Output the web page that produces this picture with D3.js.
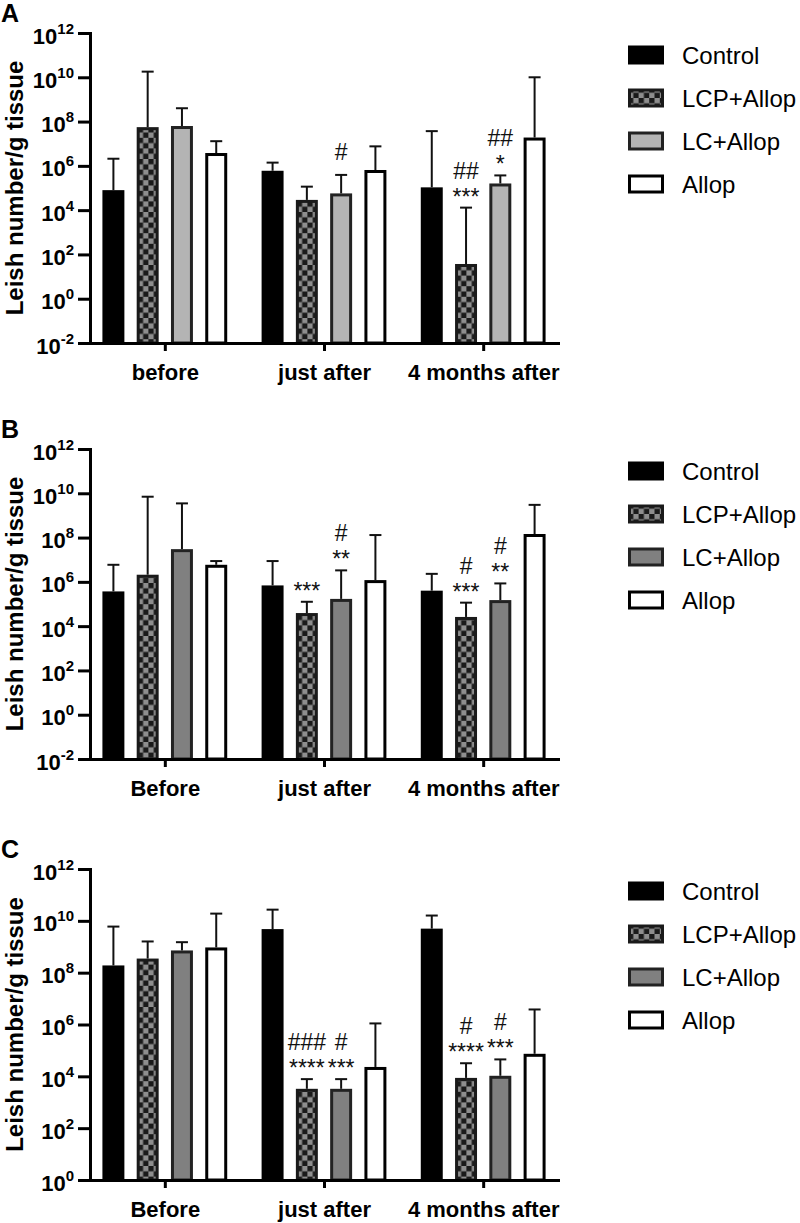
<!DOCTYPE html>
<html><head><meta charset="utf-8">
<script src="https://cdn.jsdelivr.net/npm/d3@7"></script>
<style>body{margin:0;background:#fff} svg{display:block}</style>
</head><body>
<svg id="chart" width="800" height="1223"></svg>
<script>
// ---------- DATA ----------
const categoriesA = ["before", "just after", "4 months after"];
const categoriesBC = ["Before", "just after", "4 months after"];
const series = ["Control", "LCP+Allop", "LC+Allop", "Allop"];
const panelLetters = ["A", "B", "C"];
const yLabel = "Leish number/g tissue";
const yExpAB = [-2, 0, 2, 4, 6, 8, 10, 12];
const yExpC = [0, 2, 4, 6, 8, 10, 12];

// rows: series (Control, LCP+Allop, LC+Allop, Allop); columns: categories
const meanA = [
  [8e4, 6e5, 1.07e5],
  [5.6e7, 2.9e4, 37],
  [6.3e7, 5.7e4, 1.6e5],
  [3.8e6, 6.5e5, 1.9e7]
];
const errA = [
  [2.1e6, 1.4e6, 3.7e7],
  [1.8e10, 1.15e5, 1.3e4],
  [4e8, 3.9e5, 3.7e5],
  [1.3e7, 7.6e6, 1e10]
];
const meanB = [
  [3.7e5, 6.9e5, 4e5],
  [2.1e6, 3.9e4, 2.6e4],
  [3e7, 1.7e5, 1.5e5],
  [5.9e6, 1.2e6, 1.45e8]
];
const errB = [
  [5.9e6, 8.7e6, 2.3e6],
  [7e9, 1.26e5, 1.15e5],
  [3.5e9, 3.3e6, 8.5e5],
  [8.7e6, 1.3e8, 3e9]
];
const meanC = [
  [1.9e8, 4.8e9, 5e9],
  [3.5e8, 3.3e3, 8.7e3],
  [7.2e8, 3.3e3, 1.05e4],
  [9.4e8, 2.3e4, 7.4e4]
];
const errC = [
  [6e9, 2.7e10, 1.6e10],
  [1.6e9, 7.8e3, 3.2e4],
  [1.5e9, 7.8e3, 4.5e4],
  [1.9e10, 1.1e6, 3.8e6]
];
// significance marks: [category index, series index, stars, hashes]
const annA = [[1, 2, "", "#"], [2, 1, "***", "##"], [2, 2, "*", "##"]];
const annB = [[1, 1, "***", ""], [1, 2, "**", "#"], [2, 1, "***", "#"], [2, 2, "**", "#"]];
const annC = [[1, 1, "****", "###"], [1, 2, "***", "#"], [2, 1, "****", "#"], [2, 2, "***", "#"]];

// ---------- STYLE / LAYOUT ----------
const FONT = "'Liberation Sans', Arial, Helvetica, sans-serif";
const svg = d3.select("#chart");
const defs = svg.append("defs");
const pat = defs.append("pattern").attr("id", "chk")
  .attr("patternUnits", "userSpaceOnUse").attr("width", 10.6).attr("height", 10.6);
pat.append("rect").attr("width", 10.6).attr("height", 10.6).attr("fill", "#8e8e8e");
pat.append("rect").attr("width", 5.3).attr("height", 5.3).attr("fill", "#1a1a1a");
pat.append("rect").attr("x", 5.3).attr("y", 5.3).attr("width", 5.3).attr("height", 5.3).attr("fill", "#1a1a1a");

const panels = [
  {letter: panelLetters[0], cats: categoriesA, mean: meanA, err: errA, ann: annA, exps: yExpAB, top: 33, bottom: 343, lcFill: "#b4b4b4"},
  {letter: panelLetters[1], cats: categoriesBC, mean: meanB, err: errB, ann: annB, exps: yExpAB, top: 449, bottom: 759, lcFill: "#808080"},
  {letter: panelLetters[2], cats: categoriesBC, mean: meanC, err: errC, ann: annC, exps: yExpC, top: 869, bottom: 1180, lcFill: "#808080"}
];

const left = 90, right = 558;

panels.forEach(p => {
  const fills = ["#000000", "url(#chk)", p.lcFill, "#ffffff"];
  const strokes = ["#000000", "#1a1a1a", "#222222", "#000000"];
  const g = svg.append("g");
  const y = d3.scaleLog()
    .domain([Math.pow(10, p.exps[0]), Math.pow(10, p.exps[p.exps.length - 1])])
    .range([p.bottom, p.top]);
  const x0 = d3.scalePoint().domain(p.cats).range([left, right]).padding(0.47);
  const x1 = d3.scaleBand().domain(series).range([-62.4, 62.4]).paddingInner(0.359);
  const bw = x1.bandwidth();

  // bars
  const rows = [];
  series.forEach((s, si) => p.cats.forEach((c, ci) => rows.push({s, si, c, ci, v: p.mean[si][ci], e: p.err[si][ci]})));
  g.selectAll("rect.bar").data(rows).join("rect").attr("class", "bar")
    .attr("x", d => x0(d.c) + x1(d.s) + 1.5)
    .attr("width", bw - 3)
    .attr("y", d => y(d.v) + 1.5)
    .attr("height", d => p.bottom - y(d.v) - 1.5)
    .attr("fill", d => fills[d.si])
    .attr("stroke", d => strokes[d.si])
    .attr("stroke-width", 3);

  // error bars
  const eg = g.selectAll("g.err").data(rows).join("g").attr("class", "err")
    .attr("stroke", "#111").attr("stroke-width", 2);
  eg.append("line")
    .attr("x1", d => x0(d.c) + x1(d.s) + bw / 2).attr("x2", d => x0(d.c) + x1(d.s) + bw / 2)
    .attr("y1", d => y(d.v)).attr("y2", d => y(d.e));
  eg.append("line")
    .attr("x1", d => x0(d.c) + x1(d.s) + bw / 2 - 6).attr("x2", d => x0(d.c) + x1(d.s) + bw / 2 + 6)
    .attr("y1", d => y(d.e)).attr("y2", d => y(d.e));

  // annotations
  p.ann.forEach(a => {
    const [ci, si, stars, hashes] = a;
    const cx = x0(p.cats[ci]) + x1(series[si]) + bw / 2;
    const eTop = y(p.err[si][ci]);
    let starY = eTop - 16;
    if (stars) {
      g.append("text").attr("x", cx).attr("y", starY + 13).attr("text-anchor", "middle")
        .attr("font-family", FONT).attr("font-size", 23).attr("fill", "#111").text(stars);
    }
    if (hashes) {
      const hy = stars ? starY - 21 : eTop - 23;
      g.append("text").attr("x", cx).attr("y", hy + 8).attr("text-anchor", "middle")
        .attr("font-family", FONT).attr("font-size", 23).attr("fill", "#111").text(hashes);
    }
  });

  // y axis
  const yAx = g.append("g").attr("transform", `translate(${left},0)`)
    .call(d3.axisLeft(y).tickValues(p.exps.map(e => Math.pow(10, e))).tickSize(12).tickSizeOuter(0).tickPadding(4).tickFormat(""));
  yAx.select(".domain").attr("stroke-width", 3).attr("stroke", "#000").attr("stroke-linecap", "square");
  yAx.selectAll(".tick line").attr("stroke-width", 3).attr("stroke", "#000");
  yAx.selectAll(".tick text").each(function(d) {
    const t = d3.select(this);
    t.attr("dy", null).attr("y", 10).attr("font-family", FONT).attr("font-weight", "bold").attr("font-size", 22).attr("fill", "#000");
    t.append("tspan").text("10");
    t.append("tspan").attr("dy", -10).attr("font-size", 15).text(Math.round(Math.log10(d)));
  });

  // x axis
  const xAx = g.append("g").attr("transform", `translate(0,${p.bottom})`)
    .call(d3.axisBottom(x0).tickSize(8).tickSizeOuter(0).tickPadding(13));
  xAx.select(".domain").attr("stroke-width", 3).attr("stroke", "#000").attr("stroke-linecap", "square");
  xAx.selectAll(".tick line").attr("stroke-width", 3).attr("stroke", "#000");
  xAx.selectAll(".tick text").attr("font-family", FONT).attr("font-weight", "bold").attr("font-size", 22).attr("fill", "#000");

  // y label
  g.append("text").attr("transform", `translate(23,${(p.top + p.bottom) / 2}) rotate(-90)`)
    .attr("text-anchor", "middle").attr("font-family", FONT).attr("font-weight", "bold")
    .attr("font-size", 24).attr("fill", "#000").text(yLabel);

  // panel letter
  g.append("text").attr("x", 1).attr("y", p.top - 11).attr("font-family", FONT).attr("font-weight", "bold")
    .attr("font-size", 25).attr("fill", "#000").text(p.letter);

  // legend
  const lg = g.selectAll("g.leg").data(series).join("g").attr("class", "leg")
    .attr("transform", (d, i) => `translate(628,${p.top + 22 + i * 43})`);
  lg.append("rect").attr("x", 1.5).attr("y", -8).attr("width", 33).attr("height", 16)
    .attr("fill", (d, i) => fills[i]).attr("stroke", (d, i) => strokes[i]).attr("stroke-width", 3);
  lg.append("text").attr("x", 54).attr("y", 8.5).attr("font-family", FONT).attr("font-size", 24)
    .attr("fill", "#000").text(d => d);
});
</script>
</body></html>
